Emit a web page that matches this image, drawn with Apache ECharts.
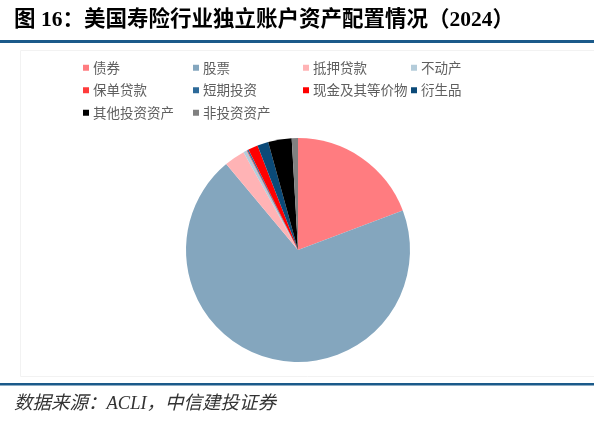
<!DOCTYPE html>
<html>
<head>
<meta charset="utf-8">
<script src="https://cdn.jsdelivr.net/npm/echarts@6/dist/echarts.min.js"></script>
<style>
html,body{margin:0;padding:0;background:#fff;}
#c{width:594px;height:423px;}
</style>
</head>
<body>
<div id="c"></div>
<script>
const categories = ['债券','股票','抵押贷款','不动产','保单贷款','短期投资','现金及其等价物','衍生品','其他投资资产','非投资资产'];
const values = [19.3, 69.8, 3.0, 0.5, 0.1, 0.2, 1.4, 1.6, 3.4, 0.9];
const colors = ['#FF7C80','#84A6BE','#FFB3B5','#B4CCDA','#FF3B3B','#2D6A99','#FF0000','#0B4A78','#000000','#808080'];
const legendCols = [
  ['债券','保单贷款','其他投资资产'],
  ['股票','短期投资','非投资资产'],
  ['抵押贷款','现金及其等价物'],
  ['不动产','衍生品']
];
const legendX = [78, 188, 298, 406];

const chart = echarts.init(document.getElementById('c'), null, {renderer:'canvas'});
const legends = legendCols.map((col, i) => ({
  data: col,
  orient: 'vertical',
  left: legendX[i],
  top: 56,
  itemWidth: 6,
  itemHeight: 6,
  itemGap: 9,
  icon: 'rect',
  selectedMode: false,
  textStyle: {fontSize: 13.5, color: '#5f5f5f', fontFamily: "'Noto Sans CJK SC'", padding:[0,0,0,-1]}
}));

chart.setOption({
  animation: false,
  color: colors,
  legend: legends,
  graphic: [
    {type:'text', left: 14, top: 10, style:{text:'图 16：美国寿险行业独立账户资产配置情况（2024）', font:"bold 21.5px 'Liberation Serif','Noto Sans CJK SC'", fill:'#000'}},
    {type:'rect', shape:{x:0, y:40, width:594, height:3}, style:{fill:'#1B5A8A'}},
    {type:'rect', shape:{x:20.5, y:50.5, width:600, height:326}, style:{fill:'none', stroke:'#F2F2F2', lineWidth:1}},
    {type:'rect', shape:{x:0, y:383, width:594, height:2.5}, style:{fill:'#1B5A8A'}},
    {type:'text', left: 14, top: 395, style:{text:'数据来源：ACLI，中信建投证券', font:"italic 18.5px 'Liberation Serif','Noto Sans CJK SC'", fill:'#333'}}
  ],
  series: [{
    type: 'pie',
    center: [298, 250],
    radius: 112,
    startAngle: 90,
    clockwise: true,
    label: {show:false},
    labelLine: {show:false},
    emphasis: {disabled:true},
    itemStyle: {borderWidth:0},
    data: categories.map((n, i) => ({name:n, value:values[i]}))
  }]
});
</script>
</body>
</html>
